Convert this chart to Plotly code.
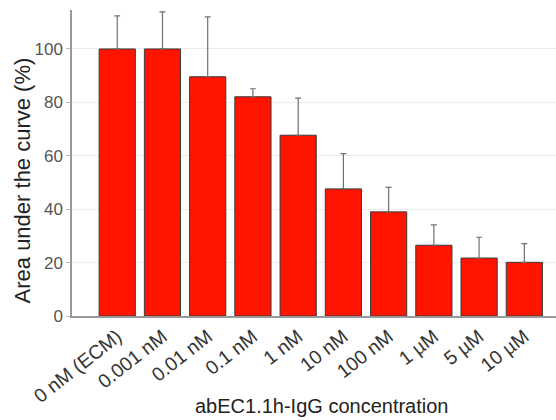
import plotly.graph_objects as go

categories = ["0 nM (ECM)", "0.001 nM", "0.01 nM", "0.1 nM", "1 nM", "10 nM",
              "100 nM", "1 µM", "5 µM", "10 µM"]
values = [100, 100, 89.6, 82.1, 67.7, 47.6, 39.0, 26.5, 21.7, 20.1]
errors = [12.4, 13.9, 22.4, 3.0, 13.9, 13.2, 9.2, 7.6, 7.8, 7.0]

x_title = "abEC1.1h-IgG concentration"
y_title = "Area under the curve (%)"

fig = go.Figure(go.Bar(
    x=list(range(len(categories))), y=values,
    marker=dict(color="#ff1400", line=dict(color="#3a3a3a", width=1)),
    width=0.8,
    error_y=dict(type="data", array=errors, arrayminus=[0] * len(errors),
                 symmetric=False, color="#707070", thickness=1.2, width=3),
))

fig.update_layout(
    width=556, height=420,
    margin=dict(l=72, r=0, t=10, b=104),
    plot_bgcolor="white", paper_bgcolor="white",
    font=dict(family="Liberation Sans, Arial, sans-serif", color="#444", size=16),
    showlegend=False,
    annotations=[
        dict(text=x_title, xref="paper", yref="paper", x=0.5165, y=-0.294,
             xanchor="center", yanchor="middle", showarrow=False,
             font=dict(size=20, color="#222")),
        dict(text=y_title, xref="paper", yref="paper", x=-0.1033, y=0.443,
             xanchor="center", yanchor="middle", showarrow=False, textangle=-90,
             font=dict(size=22, color="#222")),
    ],
)
fig.update_xaxes(
    tickmode="array", tickvals=list(range(len(categories))), ticktext=categories,
    range=[-1, 9.7], tickangle=-38, automargin=False,
    showline=True, linecolor="#999", linewidth=1.5,
    ticks="", showgrid=False,
    tickfont=dict(size=19.5, color="#333"),
)
fig.update_yaxes(
    range=[0, 114.6], tickvals=[0, 20, 40, 60, 80, 100], automargin=False,
    showline=True, linecolor="#999", linewidth=1.5,
    ticks="outside", ticklen=4, tickcolor="#bbb",
    showgrid=True, gridcolor="#ececec", gridwidth=1,
    zeroline=False,
    tickfont=dict(size=17, color="#555"),
)

fig.write_html("out.html", config={"displayModeBar": False},
               post_script="document.body.style.margin='0px';")
